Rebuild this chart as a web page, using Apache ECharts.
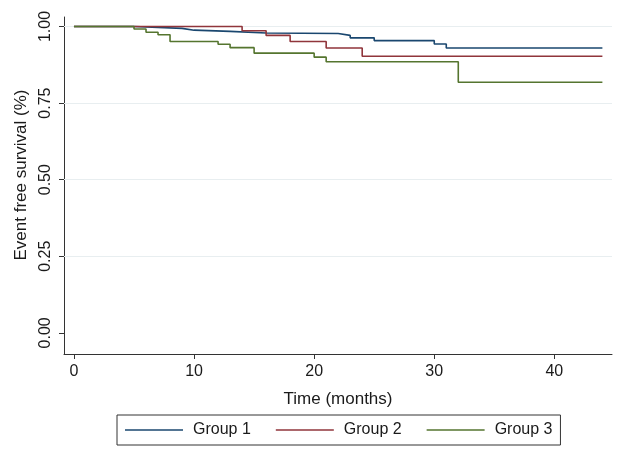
<!DOCTYPE html>
<html>
<head>
<meta charset="utf-8">
<script src="https://cdn.jsdelivr.net/npm/echarts@6/dist/echarts.min.js"></script>
<style>html,body{margin:0;padding:0;background:#fff;}#c{width:630px;height:453px;}</style>
</head>
<body>
<div id="c"></div>
<script>
// Kaplan-Meier step data: value holds from each time onward
var g1Time = [0, 5, 9, 10, 13, 16, 22, 23, 25, 30, 31, 44];
var g1Surv = [1.0, 0.994, 0.988, 0.984, 0.979, 0.977, 0.971, 0.963, 0.954, 0.943, 0.930, 0.930];
var g2Time = [0, 14, 16, 18, 21, 24, 44];
var g2Surv = [1.0, 0.986, 0.971, 0.951, 0.930, 0.903, 0.903];
var g3Time = [0, 5, 6, 7, 8, 12, 13, 15, 20, 21, 32, 44];
var g3Surv = [1.0, 0.992, 0.981, 0.973, 0.951, 0.942, 0.931, 0.913, 0.900, 0.885, 0.818, 0.818];
var seriesNames = ['Group 1', 'Group 2', 'Group 3'];
var seriesColors = ['#1a476f', '#90353b', '#55752f'];
var xTicks = [0, 10, 20, 30, 40];
var yTicks = [0, 0.25, 0.5, 0.75, 1];
var yGrid = [0.25, 0.5, 0.75, 1];

function pairs(t, s) { return t.map(function (v, i) { return [v, s[i]]; }); }
var groups = [pairs(g1Time, g1Surv), pairs(g2Time, g2Surv), pairs(g3Time, g3Surv)];

var font = 'Liberation Sans, Arial, sans-serif';
var chart = echarts.init(document.getElementById('c'));
var series = groups.map(function (d, i) {
  var s = {
    name: seriesNames[i], type: 'line', step: 'end', data: d,
    symbol: 'none', color: seriesColors[i],
    lineStyle: { width: 1.6, color: seriesColors[i] }, z: 3 + i, animation: false
  };
  if (i === 0) {
    s.markLine = {
      silent: true, symbol: 'none', animation: false,
      label: { show: false },
      lineStyle: { color: '#e8eef0', width: 1, type: 'solid' },
      data: yGrid.map(function (v) { return { yAxis: v }; }),
      z: 1
    };
  }
  return s;
});

chart.setOption({
  backgroundColor: '#fff',
  animation: false,
  grid: { left: 64, right: 18, top: 17, bottom: 99 },
  xAxis: {
    type: 'value', min: -0.83, max: 44.8,
    name: 'Time (months)', nameLocation: 'middle', nameGap: 37,
    nameTextStyle: { fontFamily: font, fontSize: 17, color: '#1a1a1a' },
    axisLine: { show: true, onZero: false, lineStyle: { color: '#333', width: 1 } },
    axisTick: { show: true, length: 5, customValues: xTicks, lineStyle: { color: '#333' } },
    axisLabel: { customValues: xTicks, margin: 10, fontFamily: font, fontSize: 16, color: '#1a1a1a' },
    splitLine: { show: false }
  },
  yAxis: {
    type: 'value', min: -0.069, max: 1.031,
    name: 'Event free survival (%)', nameLocation: 'middle', nameGap: 28, nameRotate: 90,
    nameTextStyle: { fontFamily: font, fontSize: 17, color: '#1a1a1a', padding: [0, 0, 0, 21] },
    axisLine: { show: true, onZero: false, lineStyle: { color: '#333', width: 1 } },
    axisTick: { show: true, length: 5, customValues: yTicks, lineStyle: { color: '#333' } },
    axisLabel: {
      customValues: yTicks, rotate: 90, margin: 10, fontFamily: font, fontSize: 16, color: '#1a1a1a',
      formatter: function (v) { return v.toFixed(2); }
    },
    splitLine: { show: false }
  },
  legend: {
    left: 117, top: 415,
    padding: [7, 8, 7, 8],
    borderColor: '#333', borderWidth: 1,
    itemWidth: 58, itemHeight: 1.6, itemGap: 25,
    icon: 'rect',
    data: seriesNames,
    textStyle: { fontFamily: font, fontSize: 16, color: '#1a1a1a', padding: [0, 0, 0, 5] }
  },
  series: series
});
</script>
</body>
</html>
